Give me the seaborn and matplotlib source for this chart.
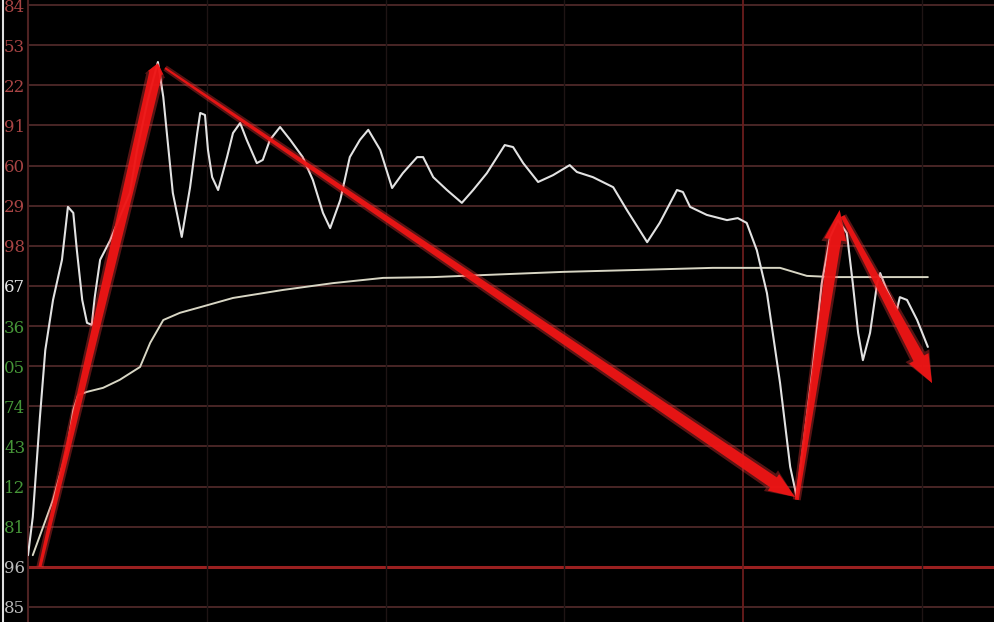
import numpy as np
import pandas as pd
import matplotlib
matplotlib.use("Agg")
import matplotlib.pyplot as plt
from matplotlib.patches import Polygon
from matplotlib.lines import Line2D
import seaborn as sns

# precos (minutos do pregao, unidades de grade; 0 = fechamento anterior)
minutos_preco = [0, 0.8, 2.0, 2.9, 4.2, 5.7, 6.7, 7.6, 8.2, 9.1, 9.9, 10.7, 11.2, 12.1,
                 13.8, 15.4, 17.1, 18.3, 20.1, 21.8, 22.7, 23.3, 24.3, 25.8, 27.2, 28.4,
                 28.9, 29.7, 30.2, 30.9, 31.9, 33.4, 34.4, 35.6, 36.7, 38.4, 39.4, 40.6,
                 42.3, 44.0, 46.1, 47.8, 49.5, 50.7, 52.4, 54.0, 55.7, 57.1, 59.1, 61.1,
                 62.9, 65.3, 66.3, 68.0, 70.3, 72.8, 74.7, 77.0, 80.0, 81.4, 83.1, 85.6,
                 88.1, 90.9, 92.1, 94.8, 98.2, 100.5, 103.9, 106.0, 108.9, 109.9, 111.1,
                 113.9, 117.3, 119.1, 120.6, 122.3, 124.0, 126.2, 127.9, 129.0, 130.0,
                 131.7, 133.2, 134.6, 135.9, 137.4, 138.4, 139.3, 140.1, 141.3, 142.5,
                 143.0, 144.1, 145.8, 146.3, 147.5, 149.2, 151.0]
preco = [-6.71, -5.76, -3.27, -1.60, -0.35, 0.65, 1.97, 1.82, 0.89, -0.35, -0.92, -0.97,
         -0.28, 0.65, 1.14, 1.72, 2.32, 3.39, 4.63, 5.58, 4.71, 3.81, 2.32, 1.22, 2.46,
         3.81, 4.31, 4.26, 3.39, 2.71, 2.39, 3.21, 3.81, 4.06, 3.64, 3.06, 3.14, 3.64,
         3.96, 3.64, 3.21, 2.64, 1.82, 1.44, 2.14, 3.21, 3.64, 3.89, 3.39, 2.44, 2.81,
         3.21, 3.21, 2.71, 2.39, 2.07, 2.39, 2.81, 3.51, 3.46, 3.06, 2.59, 2.76, 3.01,
         2.84, 2.71, 2.46, 1.89, 1.09, 1.57, 2.39, 2.34, 1.97, 1.77, 1.64, 1.69, 1.57,
         0.89, -0.18, -2.42, -4.51, -5.26, -4.09, -2.02, 0.07, 1.22, 1.64, 1.32, 0.07,
         -1.17, -1.85, -1.17, 0.07, 0.32, -0.10, -0.60, -0.28, -0.35, -0.85, -1.52]

minutos_media = [0.8, 4.2, 6.5, 7.6, 8.4, 9.9, 12.6, 15.4, 18.8, 20.5, 22.7, 25.5, 28.9,
                 34.4, 42.8, 51.2, 59.6, 68.0, 76.3, 89.8, 102.7, 114.9, 126.2, 130.7,
                 135.1, 151.0]
media = [-6.71, -5.33, -4.09, -3.09, -2.72, -2.64, -2.54, -2.34, -2.02, -1.42, -0.85,
         -0.67, -0.53, -0.30, -0.10, 0.07, 0.20, 0.22, 0.27, 0.35, 0.40, 0.45, 0.45,
         0.25, 0.22, 0.22]

# setas vermelhas desenhadas por cima (inicio -> fim)
setas_inicio = [(2.0, -7.00), (23.0, 5.43), (129.0, -5.33), (136.7, 1.74)]
setas_fim = [(21.8, 5.55), (128.7, -5.26), (136.2, 1.89), (151.7, -2.42)]

niveis = list(range(7, -9, -1))
rotulos = ["84", "53", "22", "91", "60", "29", "98", "67", "36", "05", "74", "43",
           "12", "81", "96", "85"]
linhas_verticais = [30, 60, 90, 150]
linha_meio_dia = 120

sns.set_style("dark", {"axes.facecolor": "black", "figure.facecolor": "black"})

fig = plt.figure(figsize=(9.94, 6.22), dpi=100)
ax = fig.add_axes([28 / 994, 0, 1 - 28 / 994, 1])
ax.set_facecolor("black")
ax.set_xlim(0, 162.1)
ax.set_ylim(-8.375, 7.125)

for n in niveis:
    if n == -7:
        ax.axhline(n, color="#9a2020", lw=2.2, zorder=1)
    else:
        ax.axhline(n, color="#4e2828", lw=1.3, zorder=1)
for t in linhas_verticais:
    ax.axvline(t, color="#1e1414", lw=1.0, zorder=1)
ax.axvline(linha_meio_dia, color="#6a1c1c", lw=1.3, zorder=1)

sns.lineplot(x=minutos_media, y=media, ax=ax, color="#d8d6c4", lw=1.4,
             estimator=None, sort=False, zorder=3)
sns.lineplot(x=minutos_preco, y=preco, ax=ax, color="#e2e2e2", lw=1.5,
             estimator=None, sort=False, zorder=3)


def seta(ax, p0, p1, w0, w1, head_w, head_l, color, alpha, z):
    a = ax.transData.transform(p0)
    b = ax.transData.transform(p1)
    d = b - a
    u = d / np.hypot(*d)
    nrm = np.array([-u[1], u[0]])
    base = b - u * head_l
    pts = [a + nrm * w0 / 2, base + nrm * w1 / 2, base + nrm * head_w / 2, b,
           base - nrm * head_w / 2, base - nrm * w1 / 2, a - nrm * w0 / 2]
    pts = ax.transData.inverted().transform(np.array(pts))
    ax.add_patch(Polygon(pts, closed=True, facecolor=color, edgecolor="none",
                         alpha=alpha, zorder=z))


estilos = [(3, 13, 16, 10), (2, 12, 20, 26), (4, 12, 22, 30), (4, 12, 22, 28)]
for p0, p1, (w0, w1, hw, hl) in zip(setas_inicio, setas_fim, estilos):
    seta(ax, p0, p1, w0 + 4, w1 + 5, hw + 5, hl + 3, "#ff3a3a", 0.35, 4)
    seta(ax, p0, p1, w0, w1, hw, hl, "#ee1414", 0.95, 5)

ax.set_yticks(niveis)
ax.set_yticklabels(rotulos)
ax.set_xticks([])
ax.tick_params(axis="y", length=0, pad=2, labelsize=12)
for lab, n in zip(ax.get_yticklabels(), niveis):
    lab.set_family("DejaVu Serif")
    if n > 0:
        lab.set_color("#a84444")
    elif n == 0:
        lab.set_color("#e6e6e6")
    elif n >= -6:
        lab.set_color("#469638")
    else:
        lab.set_color("#bcbcbc")

for s in ["top", "right", "bottom"]:
    ax.spines[s].set_visible(False)
ax.spines["left"].set_color("#4e2222")
ax.spines["left"].set_linewidth(1.5)

fig.add_artist(Line2D([3 / 994, 3 / 994], [0, 1], color="#e0e0e0", lw=1.5))

fig.savefig("out.png", dpi=100, facecolor="black")
